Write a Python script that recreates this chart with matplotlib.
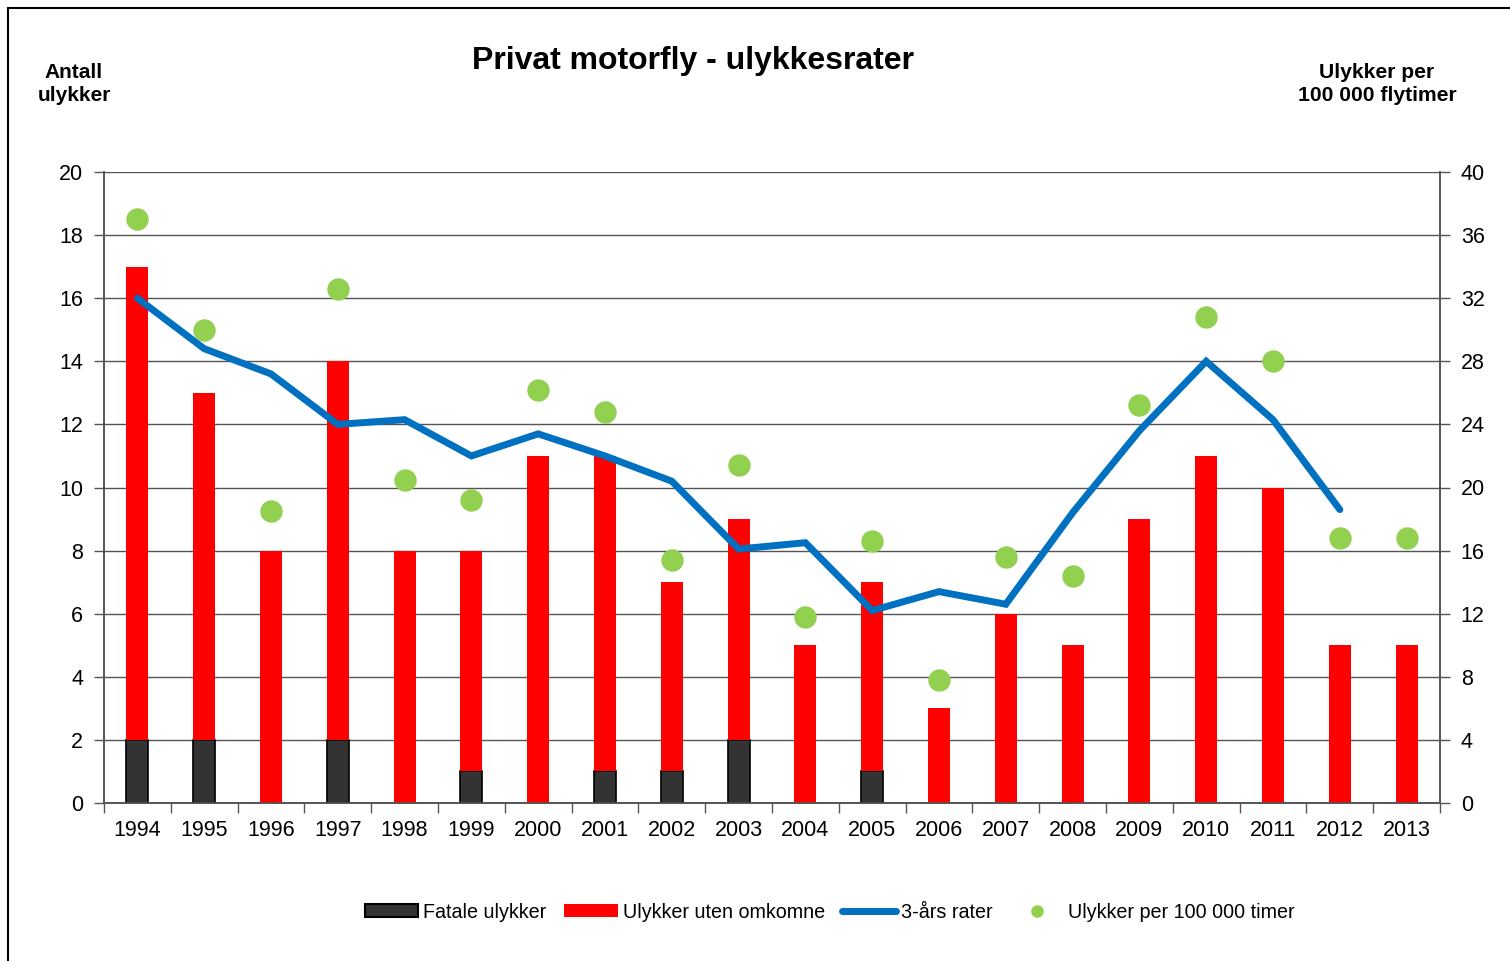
import matplotlib.pyplot as plt
import numpy as np
from matplotlib.patches import Rectangle
from matplotlib.lines import Line2D

plt.rcParams['font.family'] = ['Liberation Sans', 'DejaVu Sans']

years = [str(y) for y in range(1994, 2014)]
total = [17, 13, 8, 14, 8, 8, 11, 11, 7, 9, 5, 7, 3, 6, 5, 9, 11, 10, 5, 5]
fatal = [2, 2, 0, 2, 0, 1, 0, 1, 1, 2, 0, 1, 0, 0, 0, 0, 0, 0, 0, 0]
# 3-year rate, right axis (no value for 2013)
rate3 = [32.0, 28.8, 27.2, 24.0, 24.3, 22.0, 23.4, 22.0, 20.4, 16.1,
         16.5, 12.2, 13.4, 12.6, 18.4, 23.6, 28.0, 24.3, 18.6, np.nan]
per100k = [37.0, 30.0, 18.5, 32.6, 20.5, 19.2, 26.2, 24.8, 15.4, 21.4,
           11.8, 16.6, 7.8, 15.6, 14.4, 25.2, 30.8, 28.0, 16.8, 16.8]

nonfatal = [t - f for t, f in zip(total, fatal)]
x = np.arange(len(years))

fig = plt.figure(figsize=(15.1, 9.61), dpi=100)
ax = fig.add_axes([104 / 1510, 1 - 803 / 961, 1336 / 1510, 631 / 961])
ax2 = ax.twinx()

ax.set_axisbelow(True)
ax.grid(axis='y', color='#555555', lw=1.0)
ax.bar(x, fatal, width=0.33, color='#333333', edgecolor='black', lw=1.2, zorder=3)
ax.bar(x, nonfatal, width=0.33, bottom=fatal, color='#ff0000', zorder=3)

ax2.plot(x, rate3, color='#0070c0', lw=5, solid_capstyle='round',
         solid_joinstyle='miter', zorder=4)
ax2.scatter(x, per100k, s=260, color='#92d050', zorder=5, lw=0)

ax.set_xlim(-0.5, len(years) - 0.5)
ax.set_ylim(0, 20)
ax2.set_ylim(0, 40)
ax.set_yticks(range(0, 21, 2))
ax2.set_yticks(range(0, 41, 4))
ax.set_xticks(x)
ax.set_xticklabels(years)
ax.set_xticks(np.arange(-0.5, len(years), 1), minor=True)
ax.tick_params(axis='x', which='major', length=0, labelsize=15.5, pad=12)
ax.tick_params(axis='x', which='minor', length=7, width=1, color='#555555')
ax.tick_params(axis='y', length=7, width=1, color='#555555', labelsize=15.5, pad=8)
ax2.tick_params(axis='y', length=7, width=1, color='#555555', labelsize=15.5, pad=8)

for a in (ax, ax2):
    for side in ['left', 'right', 'bottom', 'top']:
        a.spines[side].set_color('#555555')
        a.spines[side].set_linewidth(1.2)
    a.spines['top'].set_visible(False)

fig.text(693 / 1510, 1 - 61 / 961, 'Privat motorfly - ulykkesrater', ha='center',
         va='center', fontsize=23, fontweight='bold')
fig.text(74 / 1510, 1 - 84 / 961, 'Antall\nulykker', ha='center', va='center',
         fontsize=15, fontweight='bold', linespacing=1.3)
fig.text(1377 / 1510, 1 - 84 / 961, 'Ulykker per\n100 000 flytimer', ha='center',
         va='center', fontsize=15.2, fontweight='bold', linespacing=1.3)

# outer frame
fig.patches.append(Rectangle((8 / 1510, -0.01), 1.0, 1 - 8 / 961 + 0.01,
                             transform=fig.transFigure, fill=False,
                             edgecolor='black', lw=1.5))

handles = [
    Rectangle((0, 0), 1, 1, facecolor='#333333', edgecolor='black', lw=1.5),
    Rectangle((0, 0), 1, 1, facecolor='#ff0000'),
    Line2D([], [], color='#0070c0', lw=5, solid_capstyle='round'),
    Line2D([], [], color='#92d050', marker='o', ls='none', markersize=8),
]
labels = ['Fatale ulykker', 'Ulykker uten omkomne', '3-års rater',
          'Ulykker per 100 000 timer']
fig.legend(handles, labels, loc='center', bbox_to_anchor=(830 / 1510, 1 - 912 / 961),
           ncol=4, frameon=False, fontsize=14.2, handlelength=2.7, handleheight=0.6,
           handletextpad=0.25, columnspacing=0.9)

fig.savefig('out.png', dpi=100)
